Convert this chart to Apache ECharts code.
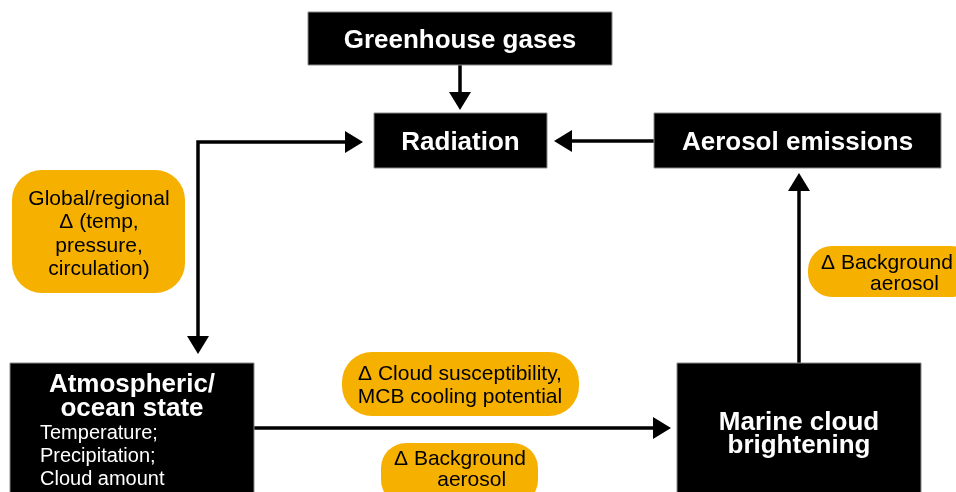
<!DOCTYPE html>
<html>
<head>
<meta charset="utf-8">
<script src="https://cdn.jsdelivr.net/npm/echarts@6/dist/echarts.min.js"></script>
<style>
html, body { margin: 0; padding: 0; background: #fff; }
#diagram { width: 956px; height: 492px; }
</style>
</head>
<body>
<div id="diagram"></div>
<script>
// black boxes
var boxTitles = ['Greenhouse gases', 'Radiation', 'Aerosol emissions', 'Atmospheric/\nocean state', 'Marine cloud\nbrightening'];
var boxDetails = ['', '', '', 'Temperature;\nPrecipitation;\nCloud amount', ''];
// orange notes
var noteTexts = [
	'Global/regional\n\u0394 (temp,\npressure,\ncirculation)',
	'\u0394 Cloud susceptibility,\nMCB cooling potential',
	'\u0394 Background\n    aerosol',
	'\u0394 Background\n      aerosol'
];
// arrows: from box -> to box (indices in boxTitles)
var linkFrom = [0, 2, 1, 3, 4];
var linkTo   = [1, 1, 3, 4, 2];

// layout in page pixels (x0, y0, x1, y1)
var boxRects = [[308, 12, 612, 65], [374, 113, 547, 168], [654, 113, 941, 168], [10, 363, 254, 500], [677, 363, 921, 500]];
var boxTextY = [41, 143, 143, 385, 434];
var noteRects = [[12, 170, 185, 293], [342, 352, 579, 416], [381, 443, 538, 505], [808, 246, 975, 297]];
var noteTextPos = [[99, 234], [460, 386], [460, 469.5], [887, 274]];
var noteRadius = [30, 30, 25, 24];
var linkPaths = [
	[[460, 65], [460, 110]],
	[[654, 141], [554, 141]],
	[[363, 142], [198, 142], [198, 354]],
	[[254, 428], [671, 428]],
	[[799, 363], [799, 173]]
];
var linkBothEnds = [false, false, true, false, false];

var FONT = '"Liberation Sans", Arial, sans-serif';
var ORANGE = '#F5B000';

var chart = echarts.init(document.getElementById('diagram'));

function arrowHead(tip, prev) {
	var dx = tip[0] - prev[0], dy = tip[1] - prev[1];
	var len = Math.sqrt(dx * dx + dy * dy);
	var ux = dx / len, uy = dy / len;
	var L = 18, W = 11;
	var bx = tip[0] - ux * L, by = tip[1] - uy * L;
	return {
		points: [tip, [bx - uy * W, by + ux * W], [bx + uy * W, by - ux * W]],
		base: [bx + ux, by + uy]
	};
}

function renderLink(params, api) {
	var i = params.dataIndex;
	var pts = linkPaths[i].map(function (p) { return api.coord(p); });
	var children = [];
	var n = pts.length;
	var endHead = arrowHead(pts[n - 1], pts[n - 2]);
	pts[n - 1] = endHead.base;
	children.push({ type: 'polygon', shape: { points: endHead.points }, style: { fill: '#000' } });
	if (linkBothEnds[i]) {
		var startHead = arrowHead(pts[0], pts[1]);
		pts[0] = startHead.base;
		children.push({ type: 'polygon', shape: { points: startHead.points }, style: { fill: '#000' } });
	}
	children.unshift({ type: 'polyline', shape: { points: pts }, style: { stroke: '#000', lineWidth: 3.5, fill: null } });
	return { type: 'group', children: children };
}

function renderBox(params, api) {
	var i = params.dataIndex;
	var r = boxRects[i];
	var p0 = api.coord([r[0], r[1]]), p1 = api.coord([r[2], r[3]]);
	var cx = (p0[0] + p1[0]) / 2;
	var children = [{
		type: 'rect',
		shape: { x: p0[0], y: p0[1], width: p1[0] - p0[0], height: p1[1] - p0[1] },
		style: { fill: '#000', stroke: '#8a8a8a', lineWidth: 1 }
	}];
	var ty = api.coord([0, boxTextY[i]])[1];
	if (boxDetails[i]) {
		children.push({
			type: 'text',
			style: { text: boxTitles[i], x: cx, y: ty - 12, align: 'center', verticalAlign: 'top',
				fill: '#fff', font: 'bold 26px ' + FONT, lineHeight: 24 }
		});
		children.push({
			type: 'text',
			style: { text: boxDetails[i], x: p0[0] + 30, y: ty + 37, align: 'left', verticalAlign: 'top',
				fill: '#fff', font: '20px ' + FONT, lineHeight: 23 }
		});
	} else {
		children.push({
			type: 'text',
			style: { text: boxTitles[i], x: cx, y: ty, align: 'center', verticalAlign: 'middle',
				fill: '#fff', font: 'bold 26px ' + FONT, lineHeight: 23 }
		});
	}
	return { type: 'group', children: children };
}

function renderNote(params, api) {
	var i = params.dataIndex;
	var r = noteRects[i];
	var p0 = api.coord([r[0], r[1]]), p1 = api.coord([r[2], r[3]]);
	var t = api.coord(noteTextPos[i]);
	return {
		type: 'group',
		children: [{
			type: 'rect',
			shape: { x: p0[0], y: p0[1], width: p1[0] - p0[0], height: p1[1] - p0[1], r: noteRadius[i] },
			style: { fill: ORANGE }
		}, {
			type: 'text',
			style: { text: noteTexts[i], x: t[0], y: t[1], align: 'center', verticalAlign: 'middle',
				fill: '#000', font: '21px ' + FONT, lineHeight: i === 0 ? 23.5 : (i === 1 ? 23 : 21) }
		}]
	};
}

var option = {
	animation: false,
	grid: { left: 0, right: 0, top: 0, bottom: 0 },
	xAxis: { type: 'value', min: 0, max: 956, show: false },
	yAxis: { type: 'value', min: 0, max: 492, inverse: true, show: false },
	series: [
		{
			type: 'custom',
			renderItem: renderLink,
			data: linkFrom.map(function (f, i) { return [f, linkTo[i]]; }),
			silent: true
		},
		{
			type: 'custom',
			renderItem: renderBox,
			data: boxTitles.map(function (t, i) { return [i]; }),
			silent: true
		},
		{
			type: 'custom',
			renderItem: renderNote,
			data: noteTexts.map(function (t, i) { return [i]; }),
			silent: true
		}
	]
};
chart.setOption(option);
window.addEventListener('resize', function () { chart.resize(); });
</script>
</body>
</html>
